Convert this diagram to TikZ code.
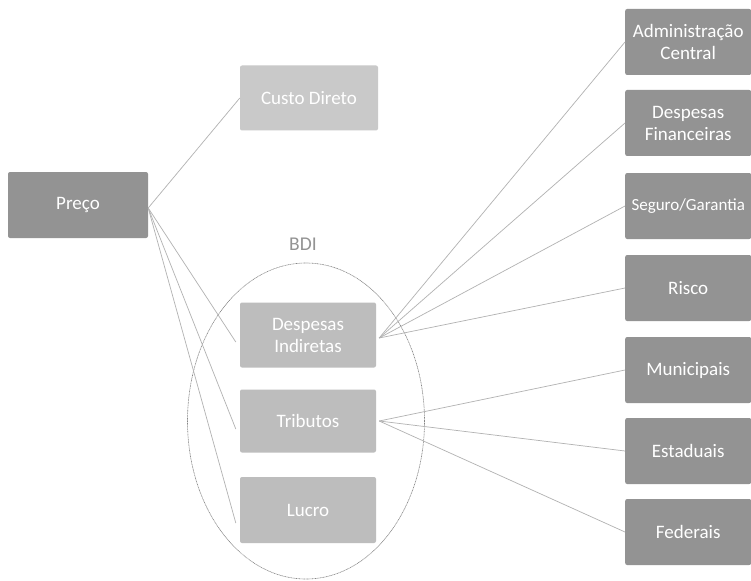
\documentclass[tikz,border=0pt]{standalone}
\usepackage{fontspec}
\setmainfont{Carlito}
\usetikzlibrary{shapes.geometric}
\begin{document}
\begin{tikzpicture}[x=1pt,y=-1pt,
  box/.style={rounded corners=2pt, text=white, font=\fontsize{19}{22}\selectfont, align=center, inner sep=0pt},
  dark/.style={box, fill=gray!85},
  light/.style={box, fill=gray!42},
  mid/.style={box, fill=gray!52},
  conn/.style={draw=gray!60, line width=0.7pt}]
\useasboundingbox (0,0) rectangle (751,580);
\fill[white] (0,0) rectangle (751,580);
% left
\node[dark, minimum width=140pt, minimum height=66pt] (preco) at (78,205) {Preço};
\node[light, minimum width=138pt, minimum height=65pt] (custo) at (309,98) {Custo Direto};
\node[draw=gray!95, dash pattern=on 1pt off 0.6pt, line width=0.6pt, ellipse, minimum width=237pt, minimum height=316pt, inner sep=0pt] (ell) at (306,421) {};
\node[font=\fontsize{19.5}{22}\selectfont, text=gray!85] (bdi) at (303,244) {BDI};
\node[mid, minimum width=136pt, minimum height=65pt] (di) at (308,335) {Despesas\\Indiretas};
\node[mid, minimum width=136pt, minimum height=63pt] (trib) at (308,421) {Tributos};
\node[mid, minimum width=136pt, minimum height=66pt] (lucro) at (308,510) {Lucro};
% right
\begin{scope}[every node/.style={dark, minimum width=126pt, minimum height=66pt, anchor=west}]
\node (adm) at (625,42) {Administração\\Central};
\node (fin) at (625,123) {Despesas\\Financeiras};
\node[font=\fontsize{17}{20}\selectfont] (seg) at (625,206) {Seguro/Garantia};
\node (ris) at (625,288) {Risco};
\node (mun) at (625,370) {Municipais};
\node (est) at (625,451) {Estaduais};
\node (fed) at (625,532) {Federais};
\end{scope}
% connectors
\draw[conn] ([yshift=-3pt]preco.east) -- (custo.west);
\draw[conn] ([yshift=-3pt]preco.east) -- ([xshift=-4pt,yshift=-7pt]di.west);
\draw[conn] ([yshift=-3pt]preco.east) -- ([xshift=-4pt,yshift=-8pt]trib.west);
\draw[conn] ([yshift=-3pt]preco.east) -- ([xshift=-4pt,yshift=-13pt]lucro.west);
\foreach \t in {adm,fin,seg,ris}{\draw[conn] ([xshift=3pt,yshift=-3pt]di.east) -- (\t.west);}
\foreach \t in {mun,est,fed}{\draw[conn] ([xshift=3pt]trib.east) -- (\t.west);}
\end{tikzpicture}
\end{document}
